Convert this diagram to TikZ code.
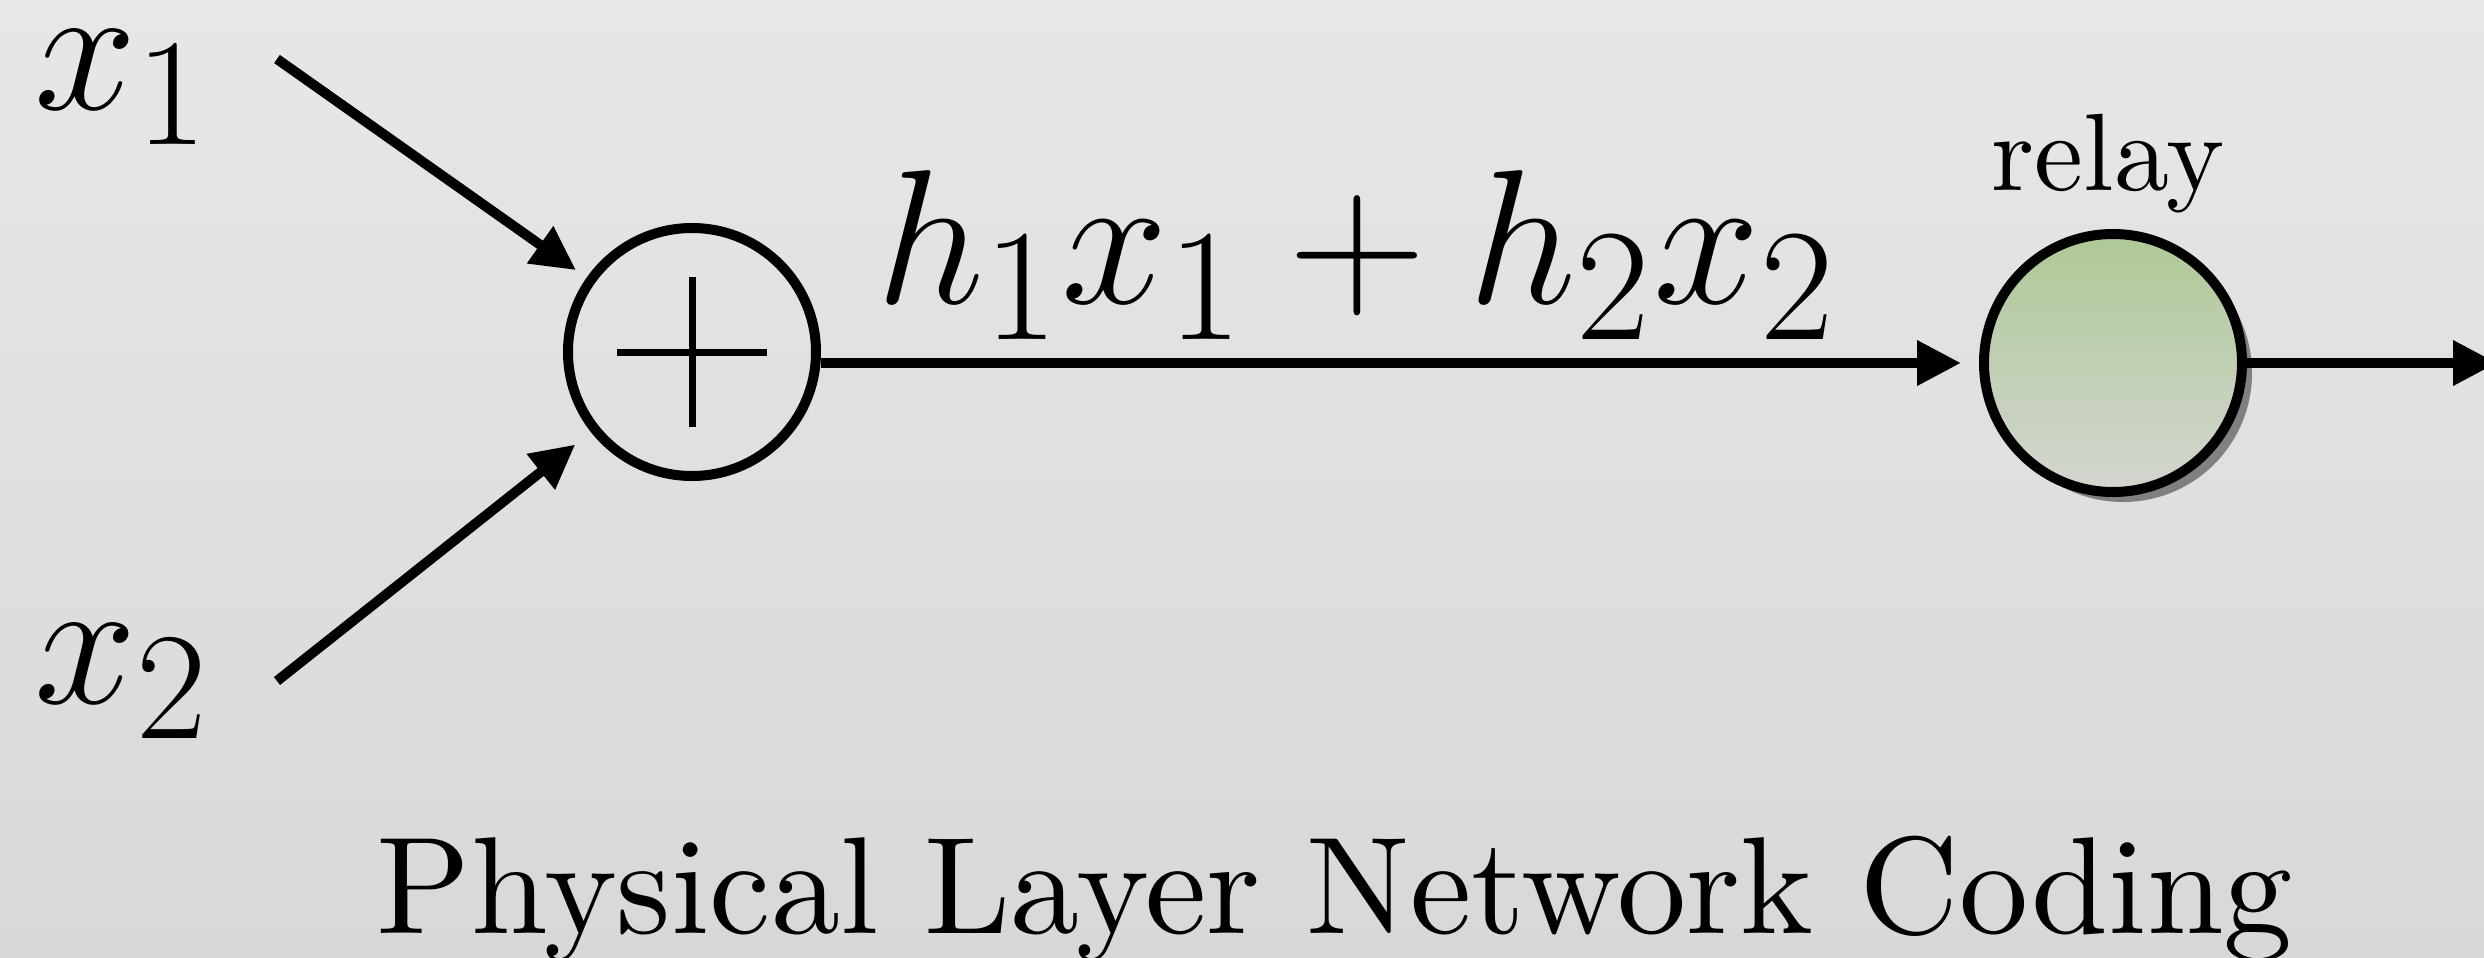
\documentclass[tikz,border=0pt]{standalone}
\usepackage{amsmath}
\usepackage{tikz}
\usetikzlibrary{positioning, arrows.meta, calc, shadows}
\definecolor{bgtop}{RGB}{231,231,231}
\definecolor{bgbottom}{RGB}{216,216,216}
\definecolor{relaytop}{RGB}{174,200,150}
\definecolor{relaybottom}{RGB}{212,214,209}

\begin{document}
\begin{tikzpicture}[
  >={Triangle[length=0.44cm, width=0.43cm]},
  link/.style={->, line width=0.1cm},
  sumnode/.style={circle, draw=black, line width=0.1cm, minimum size=2.48cm, inner sep=0pt},
  relaynode/.style={circle, draw=black, line width=0.1cm, minimum size=2.58cm, inner sep=0pt,
    top color=relaytop, bottom color=relaybottom,
    drop shadow={shadow xshift=0.1cm, shadow yshift=-0.1cm, fill=black!75, opacity=0.6}},
  mathlabel/.style={inner sep=0pt, font=\Huge, scale=2.1}
]
  % background
  \shade[top color=bgtop, bottom color=bgbottom] (0,0) rectangle (24.84,9.57);
  \useasboundingbox (0,0) rectangle (24.84,9.57);

  % adder and relay
  \node[sumnode] (plus) at (6.92,6.05) {};
  \draw[line width=0.07cm] ($(plus)+(-0.75,0)$) -- ($(plus)+(0.75,0)$);
  \draw[line width=0.07cm] ($(plus)+(0,-0.75)$) -- ($(plus)+(0,0.75)$);
  \node[relaynode] (relay) at (21.13,5.94) {};

  % labels
  \node[anchor=base, inner sep=0pt, scale=3.13] (relaytext) at (21.08,7.67) {relay};
  \node[mathlabel, anchor=base west] (x1) at (0.33,8.48) {$x_1$};
  \node[mathlabel, anchor=base west] (x2) at (0.33,2.54) {$x_2$};
  \node[mathlabel, anchor=base, scale=1.043] (sum) at (13.57,6.54) {$h_1x_1+h_2x_2$};
  \node[anchor=base, inner sep=0pt, scale=3.93] (title) at (13.35,0.24) {Physical Layer Network Coding};

  % arrows
  \coordinate (s1) at (2.77,8.98);
  \coordinate (s2) at (2.77,2.76);
  \coordinate (out) at (24.97,5.94);
  \draw[link, shorten >=0.13cm] (s1) -- (plus);
  \draw[link, shorten >=0.2cm] (s2) -- (plus);
  \draw[link, shorten >=0.18cm] (plus.east |- relay) -- (relay);
  \draw[link] (relay) -- (out);
\end{tikzpicture}
\end{document}
